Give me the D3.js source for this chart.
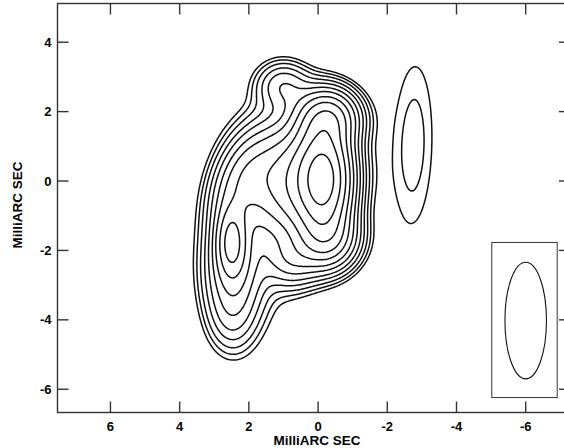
<!DOCTYPE html>
<html>
<head>
<meta charset="utf-8">
<script src="https://cdn.jsdelivr.net/npm/d3@7"></script>
<style>
  body { margin: 0; background: #fff; }
  svg { display: block; font-family: "Liberation Sans", Arial, sans-serif; }
</style>
</head>
<body>
<script>

// gaussian source components (mas, flux in % of peak)
const compX    = [-0.17, 0.60, 2.20, -0.30, 1.00, -0.30,  0.75,  2.50,  2.45,  2.50, 1.80, -2.75];
const compY    = [ 0.05, 0.00, 0.00,  1.85, 2.75, -1.70, -2.30, -1.75, -2.60, -4.00, -1.30, 1.04];
const compFlux = [70,    33,   12,    25,   8,    18,     8,     20,    11,    3.5,   2.2,   2.75];
const compSx   = [0.47,  0.85, 0.50,  0.55, 0.50, 0.55,  0.50,  0.28,  0.55,  0.45,  1.00,  0.54];
const compSy   = [1.00,  1.05, 0.90,  0.50, 0.45, 0.55,  0.50,  0.65,  1.00,  0.70,  2.20,  2.27];
const compPA   = [0,     10,   20,    0,    0,    0,     0,     0,     0,     0,     0,     1.5];

// contour levels, percent of peak
const levels = [1.8, 2.5, 3.5, 5, 7, 10, 14, 20, 28, 40, 57, 80];

// restoring beam (centre, semi axes) and its box
const beamCenter = [-6.0, -4.02];
const beamAxes = [0.6, 1.68];
const beamBoxX = [-5.02, -6.91];
const beamBoxY = [-1.77, -6.24];

const xTicks = [6, 4, 2, 0, -2, -4, -6];
const yTicks = [4, 2, 0, -2, -4, -6];

const width = 564,
    height = 448,
    plotLeft = 57.5,
    plotRight = 570,
    plotTop = 3.5,
    plotBottom = 412.5,
    tickLen = 11;

let x = d3.scaleLinear().domain([7.53, -7.28]).range([plotLeft, plotRight]),
    y = d3.scaleLinear().domain([-6.67, 5.115]).range([plotBottom, plotTop]);

let svg = d3.select('body').append('svg')
    .attr('width', width)
    .attr('height', height);

svg.append('defs').append('clipPath')
    .attr('id', 'plot')
    .append('rect')
    .attr('x', plotLeft)
    .attr('y', plotTop)
    .attr('width', plotRight - plotLeft)
    .attr('height', plotBottom - plotTop);

// sample the model on a grid
const step = 0.04,
    gx0 = -7.3,
    gy0 = -6.7,
    nx = Math.round((7.6 - gx0) / step),
    ny = Math.round((5.2 - gy0) / step);

let values = new Float64Array(nx * ny);
for (let j = 0; j < ny; j++) {
    for (let i = 0; i < nx; i++) {
        values[j * nx + i] = field(gx0 + i * step, gy0 + j * step);
    }
}
let peak = d3.max(values);
for (let k = 0; k < values.length; k++) values[k] = values[k] / peak * 100;

let contours = d3.contours()
    .size([nx, ny])
    .thresholds(levels)(values);

let proj = d3.geoTransform({
    point: function (px, py) {
        this.stream.point(x(gx0 + (px - 0.5) * step), y(gy0 + (py - 0.5) * step));
    }
});

svg.append('g')
    .attr('clip-path', 'url(#plot)')
    .selectAll('path')
    .data(contours)
    .enter()
    .append('path')
    .attr('d', d3.geoPath(proj))
    .attr('fill', 'none')
    .attr('stroke', '#111')
    .attr('stroke-width', 1.5)
    .attr('stroke-linejoin', 'round');

// beam
svg.append('rect')
    .attr('x', x(beamBoxX[0]))
    .attr('y', y(beamBoxY[0]))
    .attr('width', x(beamBoxX[1]) - x(beamBoxX[0]))
    .attr('height', y(beamBoxY[1]) - y(beamBoxY[0]))
    .attr('fill', 'none')
    .attr('stroke', '#333')
    .attr('stroke-width', 1);

svg.append('ellipse')
    .attr('cx', x(beamCenter[0]))
    .attr('cy', y(beamCenter[1]))
    .attr('rx', x(0) - x(beamAxes[0]))
    .attr('ry', y(0) - y(beamAxes[1]))
    .attr('fill', 'none')
    .attr('stroke', '#111')
    .attr('stroke-width', 1.1);

// frame and ticks
svg.append('rect')
    .attr('x', plotLeft)
    .attr('y', plotTop)
    .attr('width', plotRight - plotLeft)
    .attr('height', plotBottom - plotTop)
    .attr('fill', 'none')
    .attr('stroke', '#333')
    .attr('stroke-width', 1.4);

let ticks = svg.append('g')
    .attr('stroke', '#333')
    .attr('stroke-width', 1.4);

xTicks.forEach(function (t) {
    ticks.append('line')
        .attr('x1', x(t)).attr('x2', x(t))
        .attr('y1', plotBottom).attr('y2', plotBottom - tickLen);
    ticks.append('line')
        .attr('x1', x(t)).attr('x2', x(t))
        .attr('y1', plotTop).attr('y2', plotTop + tickLen);
});

yTicks.forEach(function (t) {
    ticks.append('line')
        .attr('x1', plotLeft).attr('x2', plotLeft + tickLen)
        .attr('y1', y(t)).attr('y2', y(t));
    ticks.append('line')
        .attr('x1', plotRight).attr('x2', plotRight - tickLen)
        .attr('y1', y(t)).attr('y2', y(t));
});

// labels
svg.selectAll('.xlab')
    .data(xTicks)
    .enter()
    .append('text')
    .attr('class', 'xlab')
    .attr('x', d => x(d))
    .attr('y', 430.5)
    .attr('text-anchor', 'middle')
    .attr('font-size', 13)
    .attr('font-weight', 'bold')
    .text(d => d);

svg.selectAll('.ylab')
    .data(yTicks)
    .enter()
    .append('text')
    .attr('class', 'ylab')
    .attr('x', 51.5)
    .attr('y', d => y(d) + 4.6)
    .attr('text-anchor', 'end')
    .attr('font-size', 13)
    .attr('font-weight', 'bold')
    .text(d => d);

svg.append('text')
    .attr('x', 317)
    .attr('y', 445)
    .attr('text-anchor', 'middle')
    .attr('font-size', 13.5)
    .attr('font-weight', 'bold')
    .text('MilliARC SEC');

svg.append('text')
    .attr('transform', 'translate(21.5,205) rotate(-90)')
    .attr('text-anchor', 'middle')
    .attr('font-size', 13.5)
    .attr('font-weight', 'bold')
    .text('MilliARC SEC');


function field (px, py) {

    let s = 0;

    for (let k = 0; k < compX.length; k++) {
        let dx = px - compX[k],
            dy = py - compY[k],
            t = compPA[k] * Math.PI / 180,
            u = dx * Math.cos(t) + dy * Math.sin(t),
            v = -dx * Math.sin(t) + dy * Math.cos(t);
        s += compFlux[k] * Math.exp(-0.5 * (u * u / (compSx[k] ** 2) + v * v / (compSy[k] ** 2)));
    }

    return s;

}

</script>
</body>
</html>
